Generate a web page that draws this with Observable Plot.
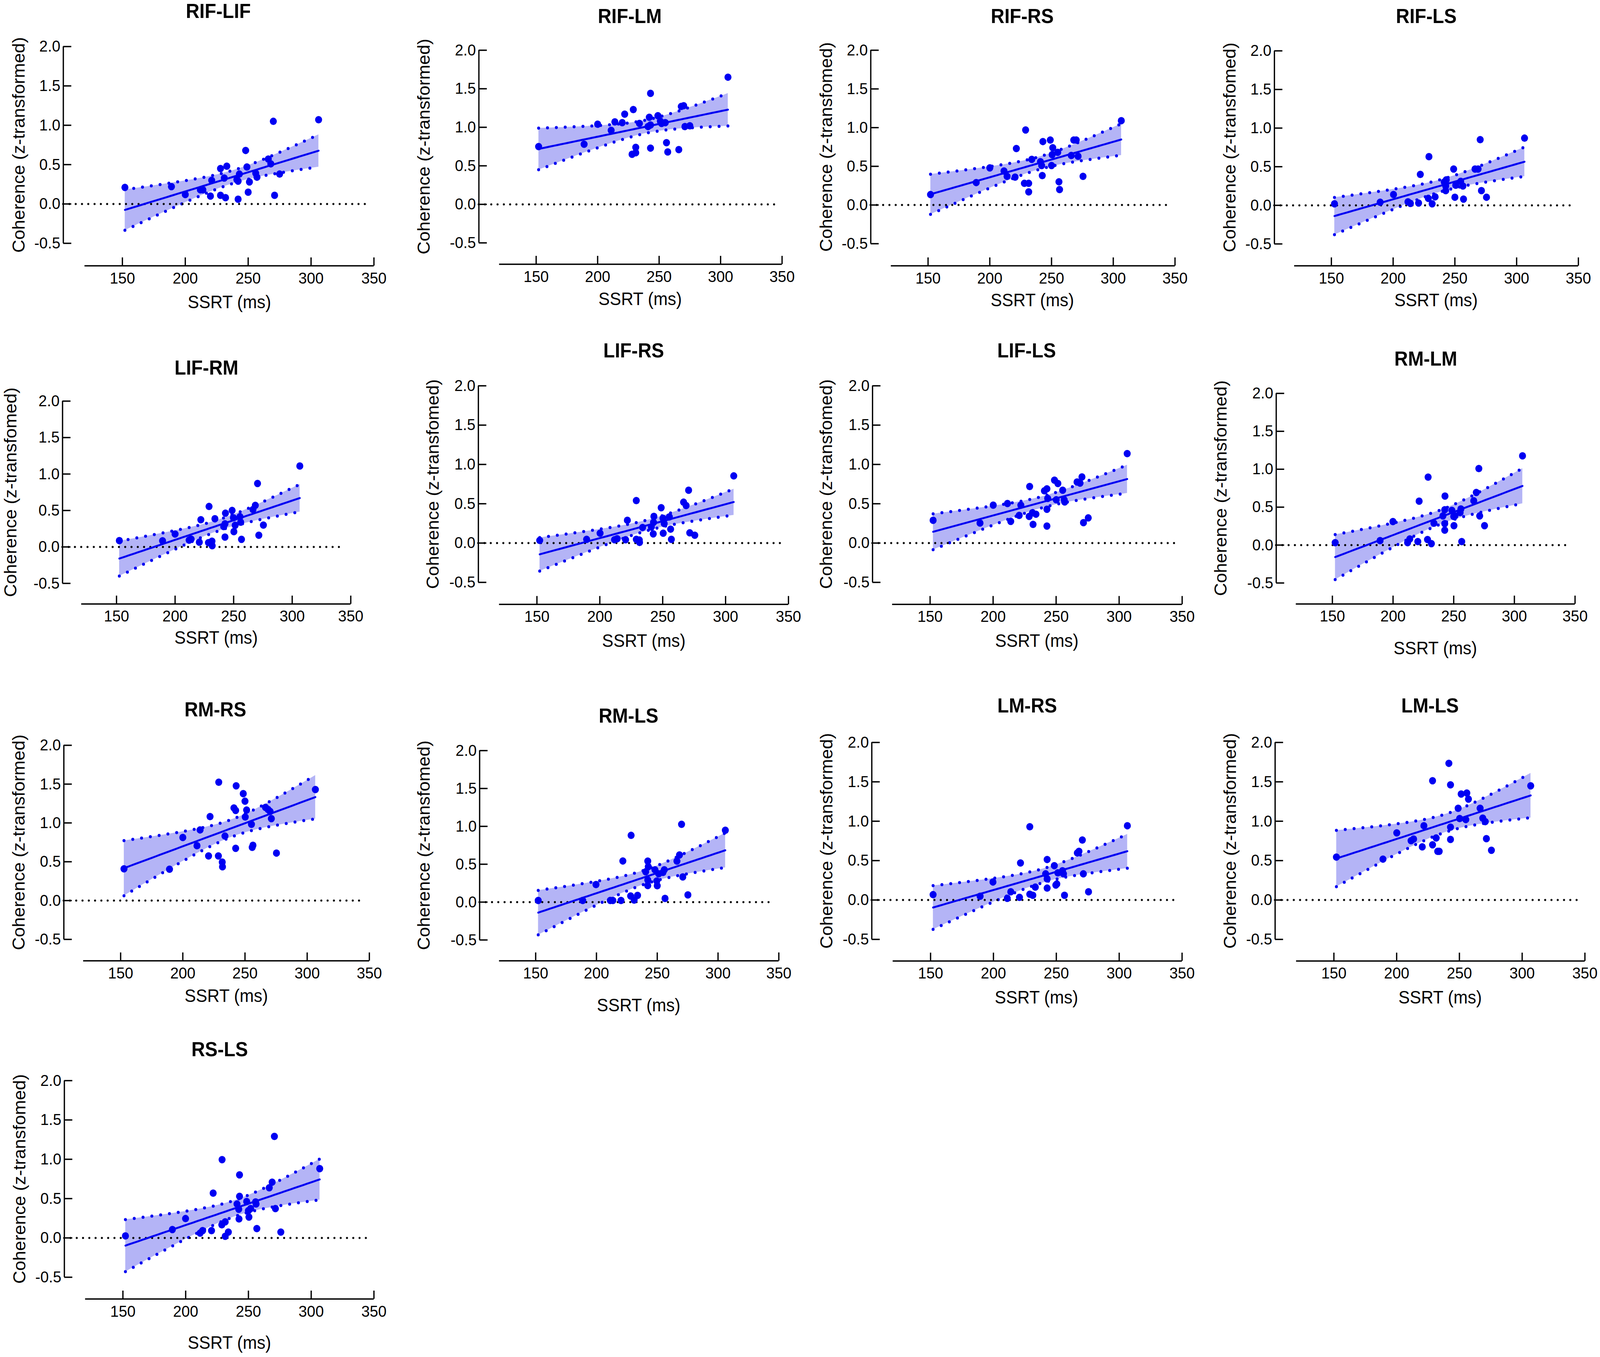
<!DOCTYPE html>
<html><head><meta charset="utf-8">
<script src="https://cdn.jsdelivr.net/npm/d3@7"></script>
<script src="https://cdn.jsdelivr.net/npm/@observablehq/plot@0.6"></script>
<style>
html,body{margin:0;padding:0;background:#fff;overflow:hidden;}
#wrap{position:relative;width:100vw;height:100vh;overflow:hidden;background:#fff;}
#fig{position:absolute;left:0;top:0;width:4328px;height:3474px;background:#fff;transform-origin:0 0;}
#fig svg{position:absolute;max-width:none;overflow:visible;}
</style></head><body><div id="wrap"><div id="fig"></div></div>
<script>
// ---------- data ----------
const titles = ["RIF-LIF","RIF-LM","RIF-RS","RIF-LS","LIF-RM","LIF-RS","LIF-LS","RM-LM","RM-RS","RM-LS","LM-RS","LM-LS","RS-LS"];
const yLabels = [
  "Coherence (z-transformed)","Coherence (z-transformed)","Coherence (z-transfomed)","Coherence (z-transfomed)",
  "Coherence (z-transfomed)","Coherence (z-transfomed)","Coherence (z-transfomed)","Coherence (z-transformed)",
  "Coherence (z-transformed)","Coherence (z-transfomed)","Coherence (z-transformed)","Coherence (z-transformed)",
  "Coherence (z-transfomed)"];
const xLabel = "SSRT (ms)";
const xTicks = [150,200,250,300,350];
const yTicks = [-0.5,0,0.5,1,1.5,2];

const rifLif = [[152,0.21],[189,0.22],[200,0.12],[212,0.18],[214,0.18],[220,0.10],[221,0.30],[228,0.45],[228,0.11],[231,0.33],[232,0.08],[233,0.48],[241,0.31],[242,0.29],[243,0.38],[242,0.06],[248,0.68],[249,0.47],[251,0.28],[250,0.15],[256,0.39],[257,0.34],[266,0.57],[268,0.51],[270,1.05],[271,0.11],[275,0.38],[306,1.07]];
const rifLm = [[152,0.75],[189,0.78],[200,1.04],[211,0.96],[214,1.07],[220,1.06],[222,1.17],[229,1.23],[228,0.65],[231,0.74],[231,0.67],[234,1.05],[241,1.01],[242,1.13],[243,1.44],[243,1.03],[243,0.73],[249,1.15],[251,1.08],[252,1.05],[255,1.06],[256,0.80],[257,0.68],[266,0.71],[268,1.27],[270,1.28],[271,1.01],[275,1.02],[306,1.65]];
const rifRs = [[152,0.135],[189,0.29],[200,0.48],[211.5,0.44],[214,0.37],[220.5,0.36],[221.5,0.73],[229,0.97],[228,0.28],[231.5,0.28],[231.5,0.17],[234,0.59],[241,0.56],[242,0.51],[243,0.82],[242.5,0.38],[249,0.84],[250,0.51],[251,0.74],[250.5,0.65],[255,0.68],[256,0.30],[256.5,0.20],[266,0.64],[268,0.84],[270,0.84],[271.5,0.63],[275.5,0.37],[306.5,1.09]];
const rifLs = [[152.5,0.02],[189.5,0.04],[200.3,0.14],[212,0.045],[214,0.025],[220.6,0.03],[222,0.40],[229,0.63],[228.5,0.09],[231.6,0.02],[234,0.11],[241.4,0.30],[242.6,0.19],[243,0.33],[242.6,0.25],[249,0.47],[250,0.105],[250.7,0.26],[254.7,0.31],[256.5,0.25],[257,0.08],[266.3,0.47],[268.8,0.47],[270.5,0.85],[271.5,0.19],[275.6,0.105],[306.4,0.87]];
const lifRm = [[152.4,0.087],[189.3,0.084],[200,0.177],[212,0.093],[213.7,0.107],[220.7,0.065],[222,0.373],[229,0.555],[228.5,0.059],[231.5,0.079],[231.7,0.017],[234,0.387],[241.5,0.28],[242.6,0.317],[243,0.463],[242.6,0.135],[248.7,0.50],[249.8,0.40],[251.3,0.297],[250.2,0.21],[255.4,0.415],[256,0.34],[256.7,0.104],[266.5,0.513],[268.5,0.57],[270.4,0.87],[271.5,0.16],[275.4,0.30],[306.5,1.11]];
const lifRs = [[152.2,0.034],[189.5,0.047],[200.2,0.125],[211.7,0.042],[213.8,0.055],[220.5,0.042],[221.9,0.29],[229,0.54],[229,0.047],[231.4,0.039],[231.6,0.008],[234,0.198],[241,0.203],[242.7,0.263],[243,0.339],[242.5,0.117],[248.8,0.45],[250.2,0.315],[251.2,0.247],[250.4,0.125],[255.3,0.333],[256.3,0.177],[256.9,0.047],[266.6,0.52],[268.6,0.477],[270.6,0.672],[271.5,0.13],[275.5,0.099],[306.5,0.854]];
const lifLs = [[152.4,0.289],[189.6,0.255],[200.1,0.482],[211.4,0.503],[214,0.276],[220.7,0.352],[222,0.482],[229,0.719],[228.6,0.339],[231.2,0.385],[231.7,0.237],[234,0.367],[240.7,0.664],[242.7,0.69],[243.3,0.568],[242.7,0.43],[242.7,0.216],[248.7,0.80],[250.1,0.55],[251.4,0.758],[255.2,0.672],[256.4,0.55],[256.8,0.523],[266.6,0.776],[269,0.763],[270.5,0.841],[271.7,0.26],[275.5,0.32],[306.4,1.138]];
const rmLm = [[152.3,0.032],[189.3,0.059],[199.9,0.31],[212,0.032],[213.8,0.081],[220.4,0.046],[221.5,0.579],[228.9,0.896],[228.4,0.073],[231.6,0.019],[233.7,0.288],[241.1,0.385],[242.6,0.466],[242.8,0.646],[242.6,0.196],[242.6,0.283],[248.5,0.458],[250,0.377],[251,0.385],[250.2,0.256],[255.9,0.476],[255.3,0.43],[256.6,0.046],[266.5,0.584],[268.6,0.694],[270.7,1.009],[271.4,0.385],[275.4,0.256],[306.7,1.176]];
const rmRs = [[152.7,0.409],[189.3,0.404],[200,0.813],[211.4,0.707],[213.9,0.91],[220.7,0.575],[221.9,1.082],[228.9,1.525],[228.6,0.575],[231.7,0.496],[231.9,0.435],[233.9,0.831],[241.1,1.193],[242.5,1.161],[242.9,1.478],[242.5,0.673],[248.6,1.377],[250,1.28],[251.3,1.166],[250.2,1.077],[255.2,0.982],[256.4,0.712],[255.8,0.686],[266.5,1.20],[268.5,1.174],[271.2,1.055],[270.2,1.148],[275.3,0.612],[306.6,1.43]];
const rmLs = [[152.1,0.022],[188.7,0.022],[199.6,0.232],[211.4,0.022],[213.5,0.022],[220.2,0.022],[221.7,0.543],[228.5,0.881],[228.1,0.081],[231,0.027],[233.8,0.089],[240.5,0.40],[242.2,0.541],[242.6,0.468],[242.2,0.292],[242.2,0.219],[248.1,0.427],[249.6,0.278],[250,0.216],[251.2,0.373],[255.8,0.427],[254.7,0.392],[256.4,0.049],[266.2,0.541],[268.3,0.622],[270,1.027],[271,0.332],[275.2,0.095],[306,0.949]];
const lmRs = [[152,0.068],[189.4,0.047],[199.6,0.229],[211,0.021],[213.8,0.104],[220.7,0.034],[221.5,0.47],[228.9,0.93],[228.9,0.073],[231.3,0.06],[233.3,0.164],[241.5,0.332],[242.7,0.514],[242.7,0.268],[242.7,0.151],[248.4,0.436],[249.6,0.19],[251.2,0.345],[250.4,0.203],[254.9,0.371],[255.7,0.332],[256.5,0.06],[266.7,0.597],[268,0.618],[270.7,0.761],[271.5,0.332],[275.6,0.104],[306.5,0.943]];
const lmLs = [[152,0.545],[189.1,0.519],[200.1,0.852],[211.5,0.753],[213.5,0.774],[220.4,0.675],[221.7,0.943],[228.6,1.514],[228.6,0.701],[231.5,0.787],[232.7,0.618],[233.9,0.618],[241.6,1.735],[242.9,1.462],[242.9,0.925],[242.9,0.769],[249,1.164],[251.4,1.345],[250.2,1.034],[255.1,1.021],[255.9,1.358],[257.2,1.281],[266.5,1.164],[268.6,1.039],[270.6,0.995],[271.5,0.779],[275.5,0.631],[306.8,1.449]];
const rsLs = [[152,0.026],[189.4,0.106],[199.9,0.246],[211.5,0.061],[213.5,0.093],[220.6,0.093],[221.9,0.569],[229,0.995],[228.8,0.167],[231.5,0.204],[231.5,0.021],[234,0.074],[240.9,0.431],[242.3,0.365],[242.9,0.802],[242.9,0.529],[242.5,0.241],[248.6,0.463],[250,0.347],[251.8,0.373],[250.4,0.265],[255.7,0.458],[256.1,0.431],[256.7,0.119],[266.6,0.638],[268.9,0.709],[270.7,1.291],[271.5,0.373],[275.8,0.074],[306.8,0.881]];

const panels = [rifLif, rifLm, rifRs, rifLs, lifRm, lifRs, lifLs, rmLm, rmRs, rmLs, lmRs, lmLs, rsLs];

// ---------- layout (absolute page pixels on a 4328 x 3474 sheet) ----------
// [yAxisX, x150, x350, y2.0, y-0.5, xAxisY, titleX, titleY, xLabelX, xLabelY, yLabelX]
const layout = [
  [170.8, 330.6, 1011, 118.7, 622.4, 680, 590, 28.8, 620, 774, 51.7],
  [1294.9, 1449.8, 2115, 128.1, 621.3, 676, 1703, 41.8, 1731, 766, 1147.5],
  [2354.9, 2509.9, 3177.9, 128.1, 623.4, 680, 2764.7, 41.8, 2792, 769, 2235.8],
  [3446.8, 3600.9, 4269, 129.7, 624, 680, 3857.6, 41.8, 3884, 769, 3326.7],
  [168.7, 314.7, 948.3, 1026.4, 1493, 1545.8, 557.9, 941.7, 584, 1633, 29],
  [1293.5, 1451.9, 2132.3, 987.2, 1490.4, 1546.8, 1713.6, 898.3, 1741, 1641, 1171.6],
  [2359.7, 2515.4, 3197.2, 987.2, 1490.4, 1546.8, 2776.4, 898.3, 2804, 1641, 2235.8],
  [3451.7, 3603.6, 4260, 1006.6, 1492, 1545.8, 3856.2, 919.2, 3882, 1659.3, 3302.5],
  [172.2, 325.8, 998.6, 1907.5, 2404.4, 2459.3, 582, 1817.5, 611.6, 2549.7, 51.7],
  [1296.9, 1448.5, 2106.2, 1921.1, 2405.9, 2459.3, 1699.8, 1833.2, 1727, 2574, 1147.5],
  [2357.7, 2516.7, 3197, 1900.2, 2404.4, 2459.8, 2778, 1807, 2803, 2554, 2236],
  [3448.7, 3607.7, 4286.7, 1900.2, 2404.4, 2459.8, 3867.7, 1807, 3895, 2554, 3328.4],
  [173.6, 332, 1011, 2766, 3269.3, 3325, 593.7, 2686.8, 620, 3437.9, 53.7]
];
const sheetW = 4328, sheetH = 3474;
const cellW = 1082;
const rowTop = [0, 870, 1740, 2620];
const rowH = [870, 870, 880, 854];
const xAxisStart = 120, xAxisEnd = 350, zeroLineEnd = 345;

// ---------- styles ----------
const FONT = "'Liberation Sans', Arial, Helvetica, sans-serif";
const BLUE = "#0000f2";
const BAND = "#b4b4f6";

function tQuantile(df) {
  const z = 1.959964;
  return z + (z**3 + z)/(4*df) + (5*z**5 + 16*z**3 + 3*z)/(96*df*df)
           + (3*z**7 + 19*z**5 + 17*z**3 - 15*z)/(384*df**3);
}
function fitBand(pts) {
  const n = pts.length;
  const xm = d3.mean(pts, d => d[0]), ym = d3.mean(pts, d => d[1]);
  const sxx = d3.sum(pts, d => (d[0]-xm)**2);
  const sxy = d3.sum(pts, d => (d[0]-xm)*(d[1]-ym));
  const b = sxy/sxx, a = ym - b*xm;
  const s = Math.sqrt(d3.sum(pts, d => (d[1]-a-b*d[0])**2)/(n-2));
  const t = tQuantile(n-2);
  const [x0, x1] = d3.extent(pts, d => d[0]);
  return d3.range(0, 61).map(k => {
    const x = x0 + (x1-x0)*k/60;
    const yh = a + b*x;
    const h = t*s*Math.sqrt(1/n + (x-xm)**2/sxx);
    return {x, yh, lo: yh-h, hi: yh+h};
  });
}

const fig = document.getElementById("fig");
function fitSheet() {
  const vw = document.documentElement.clientWidth || window.innerWidth;
  const vh = document.documentElement.clientHeight || window.innerHeight;
  const sx = Math.min(1, vw / sheetW), sy = Math.min(1, vh / sheetH);
  fig.style.transform = `scale(${sx}, ${sy})`;
}
fitSheet();
window.addEventListener("resize", fitSheet);

panels.forEach((data, i) => {
  const [yAxisX, x150, x350, y2, yNeg, xAxisY, titleX, titleY, xLabX, xLabY, yLabX] = layout[i];
  const col = i % 4, row = Math.floor(i / 4);
  const left = col*cellW, top = rowTop[row], W = cellW, H = rowH[row];
  const pxPerMs = (x350 - x150)/200;
  const pxPerUnit = (yNeg - y2)/2.5;
  const xAt = px => 150 + (px - x150)/pxPerMs;
  const yAt = py => -0.5 - (py - yNeg)/pxPerUnit;
  const yAxisV = xAt(yAxisX);
  const xAxisV = yAt(xAxisY);
  const yTickEnd = xAt(yAxisX + 22);
  const xTickEnd = yAt(xAxisY - 21);
  const band = fitBand(data);
  const frameRight = x150 + (zeroLineEnd - 150)*pxPerMs;

  const plot = Plot.plot({
    width: W, height: H,
    marginLeft: yAxisX - left,
    marginRight: left + W - frameRight,
    marginTop: y2 - top,
    marginBottom: top + H - yNeg,
    x: {type: "linear", domain: [150, 350], range: [x150 - left, x350 - left], axis: null},
    y: {type: "linear", domain: [-0.5, 2], range: [yNeg - top, y2 - top], axis: null},
    style: {fontFamily: FONT, background: "transparent", overflow: "visible"},
    marks: [
      Plot.areaY(band, {x: "x", y1: "lo", y2: "hi", fill: BAND}),
      Plot.line(band, {x: "x", y: "lo", stroke: BLUE, strokeWidth: 8, strokeDasharray: "0 24", strokeLinecap: "round"}),
      Plot.line(band, {x: "x", y: "hi", stroke: BLUE, strokeWidth: 8, strokeDasharray: "0 24", strokeLinecap: "round"}),
      Plot.ruleY([0], {stroke: "black", strokeWidth: 5.5, strokeDasharray: "0 17", strokeLinecap: "round"}),
      Plot.line(band, {x: "x", y: "yh", stroke: BLUE, strokeWidth: 5}),
      Plot.dot(data, {x: d => d[0], y: d => d[1], r: 9.5, fill: BLUE, stroke: "none"}),
      // y axis
      Plot.ruleX([yAxisV], {y1: -0.5, y2: 2, stroke: "black", strokeWidth: 3.5}),
      Plot.ruleY(yTicks, {y: d => d, x1: yAxisV, x2: yTickEnd, stroke: "black", strokeWidth: 3.5}),
      Plot.text(yTicks, {x: yAxisV, y: d => d, text: d => d.toFixed(1), dx: -8, textAnchor: "end", lineAnchor: "middle", fontSize: 41, fill: "black"}),
      // x axis
      Plot.ruleY([xAxisV], {x1: xAxisStart, x2: xAxisEnd, stroke: "black", strokeWidth: 3.5}),
      Plot.ruleX(xTicks, {x: d => d, y1: xAxisV, y2: xTickEnd, stroke: "black", strokeWidth: 3.5}),
      Plot.text(xTicks, {x: d => d, y: xAxisV, text: d => String(d), dy: 32, lineAnchor: "middle", fontSize: 41, fill: "black"}),
      // labels
      Plot.text([titles[i]], {text: d => d, frameAnchor: "top-left", dx: titleX - yAxisX, dy: titleY - y2, textAnchor: "middle", lineAnchor: "middle", fontSize: 51, fontWeight: "bold", fill: "black"}),
      Plot.text([xLabel], {text: d => d, frameAnchor: "bottom-left", dx: xLabX - yAxisX, dy: xLabY - yNeg, textAnchor: "middle", lineAnchor: "middle", fontSize: 46, fill: "black"}),
      Plot.text([yLabels[i]], {text: d => d, frameAnchor: "left", dx: yLabX - yAxisX, rotate: -90, textAnchor: "middle", lineAnchor: "middle", fontSize: 46, fill: "black"})
    ]
  });
  plot.style.left = left + "px";
  plot.style.top = top + "px";
  fig.appendChild(plot);
});
</script>
</body></html>
